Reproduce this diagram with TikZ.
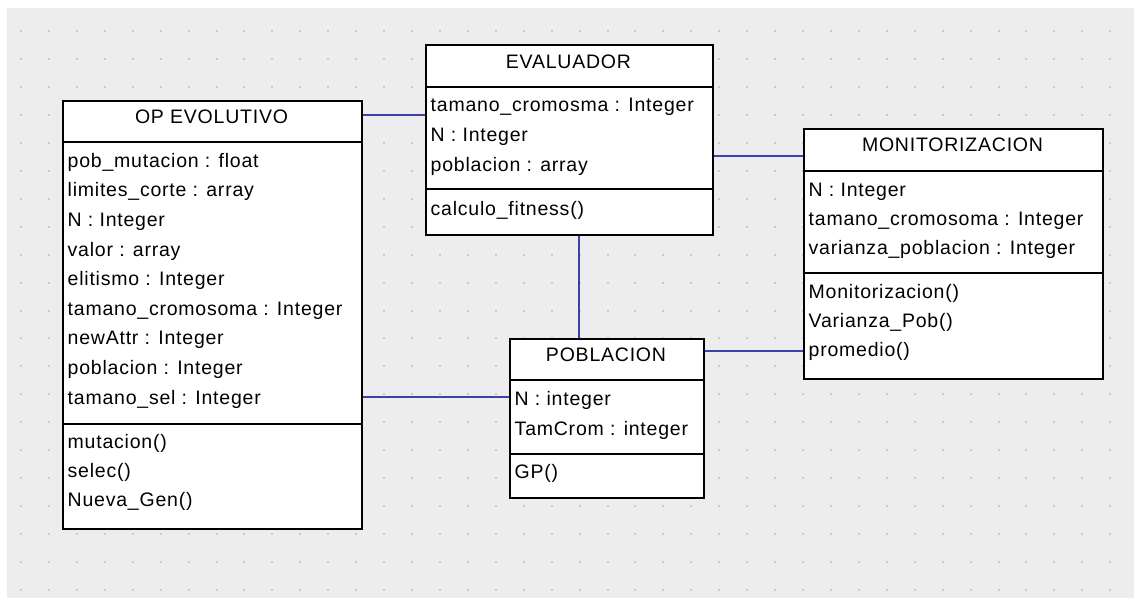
\documentclass[tikz,border=0pt]{standalone}
\usepackage{fontspec}
\usetikzlibrary{shadows}
\newfontfamily\umlfont[LetterSpace=4]{Liberation Sans}
\definecolor{canvasbg}{HTML}{EDEDED}
\definecolor{griddot}{HTML}{CACACA}
\definecolor{assoccol}{RGB}{64,64,172}
\tikzset{
  classbox/.style={draw=black, line width=1.5pt, fill=white, inner sep=0pt,
    anchor=north west, drop shadow={shadow xshift=1.5pt, shadow yshift=-1.5pt, fill=black!30}},
  classline/.style={draw=black, line width=1.3pt},
  assoc/.style={draw=assoccol, line width=1.5pt},
  ctitle/.style={anchor=base, inner sep=0pt, font=\umlfont\fontsize{19.5}{23}\selectfont},
  member/.style={anchor=base west, inner sep=0pt, font=\umlfont\fontsize{19.5}{23}\selectfont},
}
\begin{document}
\begin{tikzpicture}[x=1pt, y=-1pt]
  % page and canvas
  \fill[white] (0,0) rectangle (1134,598);
  \fill[canvasbg] (7,8) rectangle (1134,598);
  \useasboundingbox (0,0) rectangle (1134,598);
  % dotted grid
  \foreach \i in {0,...,39} {
    \foreach \j in {0,...,20} {
      \fill[griddot] ({21+27.93*\i-1},{31+27.95*\j-1}) rectangle ++(2,2);
    }
  }

  % class boxes
  \node[classbox, minimum width=299pt, minimum height=428pt] (opevo) at (62,100) {};
  \node[classbox, minimum width=287pt, minimum height=190pt] (eval)  at (425,44) {};
  \node[classbox, minimum width=299pt, minimum height=250pt] (monit) at (803,128) {};
  \node[classbox, minimum width=194pt, minimum height=159pt] (pob)   at (509,338) {};

  % compartment separators
  \draw[classline] ([yshift=-42pt]opevo.north west) -- ([yshift=-42pt]opevo.north east);
  \draw[classline] ([yshift=-324pt]opevo.north west) -- ([yshift=-324pt]opevo.north east);
  \draw[classline] ([yshift=-43pt]eval.north west) -- ([yshift=-43pt]eval.north east);
  \draw[classline] ([yshift=-145pt]eval.north west) -- ([yshift=-145pt]eval.north east);
  \draw[classline] ([yshift=-43pt]monit.north west) -- ([yshift=-43pt]monit.north east);
  \draw[classline] ([yshift=-145pt]monit.north west) -- ([yshift=-145pt]monit.north east);
  \draw[classline] ([yshift=-42pt]pob.north west) -- ([yshift=-42pt]pob.north east);
  \draw[classline] ([yshift=-116pt]pob.north west) -- ([yshift=-116pt]pob.north east);

  % associations
  \coordinate (a1) at ([yshift=-15pt]opevo.north east);
  \coordinate (a2) at ([yshift=-112pt]eval.north east);
  \coordinate (a3) at ([xshift=154pt]eval.south west);
  \coordinate (a4) at ([yshift=-297pt]opevo.north east);
  \coordinate (a5) at ([yshift=-13pt]pob.north east);
  \draw[assoc] (a1) -- (a1 -| eval.west);
  \draw[assoc] (a2) -- (a2 -| monit.west);
  \draw[assoc] (a3) -- (a3 |- pob.north);
  \draw[assoc] (a4) -- (a4 -| pob.west);
  \draw[assoc] (a5) -- (a5 -| monit.west);

  % OP EVOLUTIVO
  \node[ctitle] (opevo-t) at (211.5,123.3) {OP EVOLUTIVO};
  \node[member] (opevo-a1) at (67.5,167.3) {pob\_mutacion : float};
  \node[member] (opevo-a2) at (67.5,196.9) {limites\_corte : array};
  \node[member] (opevo-a3) at (67.5,226.5) {N : Integer};
  \node[member] (opevo-a4) at (67.5,256.1) {valor : array};
  \node[member] (opevo-a5) at (67.5,285.7) {elitismo : Integer};
  \node[member] (opevo-a6) at (67.5,315.3) {tamano\_cromosoma : Integer};
  \node[member] (opevo-a7) at (67.5,344.9) {newAttr : Integer};
  \node[member] (opevo-a8) at (67.5,374.5) {poblacion : Integer};
  \node[member] (opevo-a9) at (67.5,404.1) {tamano\_sel : Integer};
  \node[member] (opevo-m1) at (67.5,448.3) {mutacion()};
  \node[member] (opevo-m2) at (67.5,477.6) {selec()};
  \node[member] (opevo-m3) at (67.5,506.9) {Nueva\_Gen()};

  % EVALUADOR
  \node[ctitle] (eval-t) at (568.5,68.3) {EVALUADOR};
  \node[member] (eval-a1) at (430.5,111.7) {tamano\_cromosma : Integer};
  \node[member] (eval-a2) at (430.5,141.5) {N : Integer};
  \node[member] (eval-a3) at (430.5,171.3) {poblacion : array};
  \node[member] (eval-m1) at (430.5,215) {calculo\_fitness()};

  % MONITORIZACION
  \node[ctitle] (monit-t) at (952.5,151.7) {MONITORIZACION};
  \node[member] (monit-a1) at (808.5,196) {N : Integer};
  \node[member] (monit-a2) at (808.5,225) {tamano\_cromosoma : Integer};
  \node[member] (monit-a3) at (808.5,254) {varianza\_poblacion : Integer};
  \node[member] (monit-m1) at (808.5,298.3) {Monitorizacion()};
  \node[member] (monit-m2) at (808.5,327.5) {Varianza\_Pob()};
  \node[member] (monit-m3) at (808.5,356.7) {promedio()};

  % POBLACION
  \node[ctitle] (pob-t) at (606,361.7) {POBLACION};
  \node[member] (pob-a1) at (514.5,405) {N : integer};
  \node[member] (pob-a2) at (514.5,435) {TamCrom : integer};
  \node[member] (pob-m1) at (514.5,478.3) {GP()};
\end{tikzpicture}
\end{document}
